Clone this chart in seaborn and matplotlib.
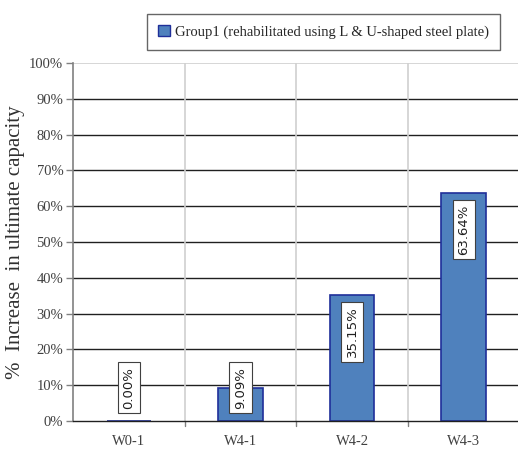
import matplotlib
matplotlib.use("Agg")
import matplotlib.pyplot as plt
import seaborn as sns
import pandas as pd
from matplotlib.patches import Patch

categories = ["W0-1", "W4-1", "W4-2", "W4-3"]
values = [0.0, 9.09, 35.15, 63.64]
labels = ["0.00%", "9.09%", "35.15%", "63.64%"]
yticks = [0, 10, 20, 30, 40, 50, 60, 70, 80, 90, 100]
legend_label = "Group1 (rehabilitated using L & U-shaped steel plate)"

df = pd.DataFrame({"cat": categories, "val": values})

sns.set_style("white")
plt.rcParams["font.family"] = ["Liberation Serif", "DejaVu Serif"]

fig = plt.figure(figsize=(5.18, 4.5), dpi=100)
ax = fig.add_axes([0.141, 0.0644, 0.862, 0.7956])

sns.barplot(data=df, x="cat", y="val", color="#4F81BD", width=0.4,
            edgecolor="#1F2F99", linewidth=1.2, saturation=1, ax=ax, zorder=3)

ax.set_ylim(0, 100)
ax.set_xlim(-0.5, 3.5)
ax.set_yticks(yticks)
ax.set_yticklabels([f"{t}%" for t in yticks], fontsize=10.5, color="#404040")
ax.set_xticks(range(len(categories)))
ax.set_xticklabels(categories, fontsize=10.5, color="#404040")
ax.tick_params(axis="x", length=0, pad=10)
ax.tick_params(axis="y", length=5, width=1, color="#808080", left=True, pad=2)

# horizontal gridlines
for t in yticks[1:-1]:
    ax.axhline(t, color="#202020", lw=1.0, zorder=1)
# vertical category separators
for b in [0.5, 1.5, 2.5]:
    ax.axvline(b, color="#D0D0D0", lw=1.2, zorder=1)
    ax.plot([b, b], [0, -0.015], transform=ax.get_xaxis_transform(), color="#808080",
            lw=1, clip_on=False)

for s in ["top", "right"]:
    ax.spines[s].set_visible(False)
ax.axhline(100, color="#D0D0D0", lw=1.2, zorder=1)
ax.spines["left"].set_color("#808080")
ax.spines["bottom"].set_color("#202020")
ax.spines["left"].set_linewidth(1.2)
ax.spines["bottom"].set_linewidth(1.0)
ax.spines["bottom"].set_zorder(4)

ax.set_xlabel("")
ax.set_ylabel("%  Increase  in ultimate capacity", fontsize=15, color="#303030", labelpad=3)

for i, (v, lab) in enumerate(zip(values, labels)):
    box = dict(boxstyle="square,pad=0.35", fc="white", ec="#404040", lw=0.8)
    if v >= 20:
        ax.annotate(lab, xy=(i, v), xytext=(0, -8), textcoords="offset points",
                    ha="center", va="top", rotation=90, fontsize=9.5,
                    family="DejaVu Sans", color="#202020", zorder=5, bbox=box)
    else:
        ax.annotate(lab, xy=(i, 0), xytext=(0, 9), textcoords="offset points",
                    ha="center", va="bottom", rotation=90, fontsize=9.5,
                    family="DejaVu Sans", color="#202020", zorder=5, bbox=box)

handle = Patch(facecolor="#4F81BD", edgecolor="#1F2F99", lw=1.0)
leg = fig.legend([handle], [legend_label], loc="upper right",
                 bbox_to_anchor=(0.98, 0.985), frameon=True, fancybox=False,
                 fontsize=10.5, handlelength=0.8, handleheight=0.8, handletextpad=0.4,
                 borderpad=0.75)
leg.get_frame().set_edgecolor("#404040")
leg.get_frame().set_linewidth(1.0)

fig.savefig("out.png", dpi=100)
